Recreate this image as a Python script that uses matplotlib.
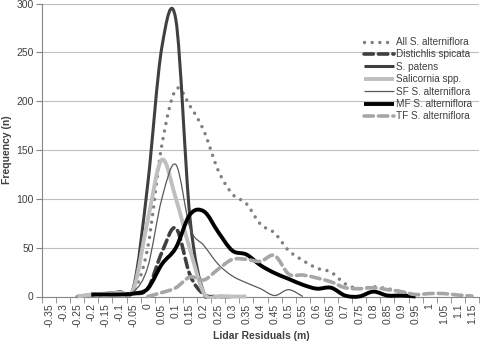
import numpy as np
import matplotlib
matplotlib.use("Agg")
import matplotlib.pyplot as plt
from matplotlib.path import Path
from matplotlib.patches import PathPatch, Rectangle
from matplotlib.lines import Line2D

plt.rcParams["font.family"] = ["Liberation Sans", "DejaVu Sans"]
NARROW = ["Liberation Sans Narrow", "Liberation Sans", "DejaVu Sans"]

# category axis: lidar residual bins (m)
x_labels = ["-0.35", "-0.3", "-0.25", "-0.2", "-0.15", "-0.1", "-0.05", "0",
            "0.05", "0.1", "0.15", "0.2", "0.25", "0.3", "0.35", "0.4",
            "0.45", "0.5", "0.55", "0.6", "0.65", "0.7", "0.75", "0.8",
            "0.85", "0.9", "0.95", "1", "1.05", "1.1", "1.15"]

N = None
all_alt = [N, N, 0, 1, 2, 3, 5, 50, 155, 212, 195, 169, 129, 105, 95, 74,
           65, 47, 37, 29, 25, 13, 8, 10, 8, 5, 0, N, N, N, N]
distichlis = [N, N, N, 2, 3, 3, 3, 8, 45, 70, 22, 2, 0, 0, N, N,
              N, N, N, N, N, N, N, N, N, N, N, N, N, N, N]
patens = [N, N, 0, 2, 3, 5, 10, 115, 255, 283, 80, 3, 0, 0, N, N,
          N, N, N, N, N, N, N, N, N, N, N, N, N, N, N]
salicornia = [N, N, 0, 2, 3, 4, 8, 78, 140, 100, 48, 3, 0, 0, 0, N,
              N, N, N, N, N, N, N, N, N, N, N, N, N, N, N]
sf_alt = [N, N, N, 1, 2, 3, 5, 30, 100, 135, 70, 52, 33, 21, 14, 8,
          1, 7, 0, N, N, N, N, N, N, N, N, N, N, N, N]
mf_alt = [N, N, N, 2, 2, 2, 3, 8, 33, 50, 84, 87, 66, 47, 43, 32,
          24, 18, 12, 8, 9, 1, 0, 5, 1, 1, 0, N, N, N, N]
tf_alt = [N, N, N, N, N, N, N, 0, 4, 9, 20, 17, 28, 38, 38, 36,
          42, 23, 22, 19, 15, 9, 8, 9, 7, 5, 2, 3, 3, 1.5, 0.5]

series = [
    ("All S. alterniflora", all_alt, dict(color="#808080", lw=2.5, ls=(0, (0.01, 2.2)), cap="round")),
    ("Distichlis spicata", distichlis, dict(color="#404040", lw=2.6, ls=(0, (2.6, 1.4)), cap="round")),
    ("S. patens", patens, dict(color="#404040", lw=2.2, ls="-", cap="butt")),
    ("Salicornia spp.", salicornia, dict(color="#bfbfbf", lw=2.8, ls="-", cap="butt")),
    ("SF S. alterniflora", sf_alt, dict(color="#595959", lw=0.9, ls="-", cap="butt")),
    ("MF S. alterniflora", mf_alt, dict(color="black", lw=2.8, ls="-", cap="butt")),
    ("TF S. alterniflora", tf_alt, dict(color="#a6a6a6", lw=2.6, ls=(0, (2.6, 1.4)), cap="round")),
]


def smooth_path(values):
    # Excel style smoothed line: cubic bezier through the data points
    pts = np.array([(i, v) for i, v in enumerate(values) if v is not None], float)
    verts = [pts[0]]
    codes = [Path.MOVETO]
    n = len(pts)
    for k in range(n - 1):
        p0 = pts[k - 1] if k > 0 else pts[k]
        p1, p2 = pts[k], pts[k + 1]
        p3 = pts[k + 2] if k + 2 < n else p2
        verts += [p1 + (p2 - p0) / 6, p2 - (p3 - p1) / 6, p2]
        codes += [Path.CURVE4] * 3
    return Path(verts, codes)


fig = plt.figure(figsize=(4.8, 3.44), dpi=100)
ax = fig.add_axes([42 / 480, 47.5 / 344, 437 / 480, 293 / 344])

# clip a little below the axis so lines sitting on zero keep full width
clip = Rectangle((-0.01, -0.008), 1.02, 1.05, transform=ax.transAxes,
                 visible=False)
ax.add_artist(clip)

handles = []
for z, (name, vals, st) in enumerate(series):
    patch = PathPatch(smooth_path(vals), fill=False, edgecolor=st["color"],
                      lw=st["lw"], linestyle=st["ls"], capstyle=st["cap"],
                      joinstyle="round", zorder=3 + z)
    ax.add_patch(patch)
    patch.set_clip_path(clip)
    handles.append(Line2D([], [], color=st["color"], lw=st["lw"], linestyle=st["ls"],
                          dash_capstyle=st["cap"], solid_capstyle="butt"))

ax.set_xlim(-0.5, len(x_labels) - 0.5)
ax.set_ylim(0, 300)

ax.set_yticks(np.arange(0, 301, 50))
ax.yaxis.grid(True, color="#bfbfbf", lw=0.8)
ax.set_axisbelow(True)
ax.tick_params(axis="y", length=4, color="#868686", labelsize=7.5,
               labelcolor="#404040", pad=2)

ax.set_xticks(range(len(x_labels)))
ax.set_xticklabels(x_labels, rotation=90)
ax.set_xticks(np.arange(-0.5, len(x_labels), 1), minor=True)
ax.tick_params(axis="x", which="major", length=0, labelsize=7.5,
               labelcolor="#404040", pad=5)
ax.tick_params(axis="x", which="minor", length=4, color="#868686")

for s in ("top", "right"):
    ax.spines[s].set_visible(False)
for s in ("left", "bottom"):
    ax.spines[s].set_color("#868686")
    ax.spines[s].set_linewidth(0.8)

fig.text(261 / 480, 1 - 336 / 344, "Lidar Residuals (m)", ha="center", va="center",
         fontsize=7.5, fontweight="bold", family=NARROW, color="#404040")
fig.text(7 / 480, 1 - 150 / 344, "Frequency (n)", ha="center", va="center",
         rotation=90, fontsize=7.5, fontweight="bold", family=NARROW, color="#404040")

leg = fig.legend(handles, [s[0] for s in series], loc="upper left",
                 bbox_to_anchor=(364 / 480, 1 - 37 / 344), frameon=False,
                 prop={"family": ["Liberation Sans", "DejaVu Sans"], "size": 7.2},
                 handlelength=3.0, handletextpad=0.25, labelspacing=0.24,
                 borderpad=0, borderaxespad=0)
for t in leg.get_texts():
    t.set_color("#404040")

fig.savefig("out.png", dpi=100)
plt.close(fig)
